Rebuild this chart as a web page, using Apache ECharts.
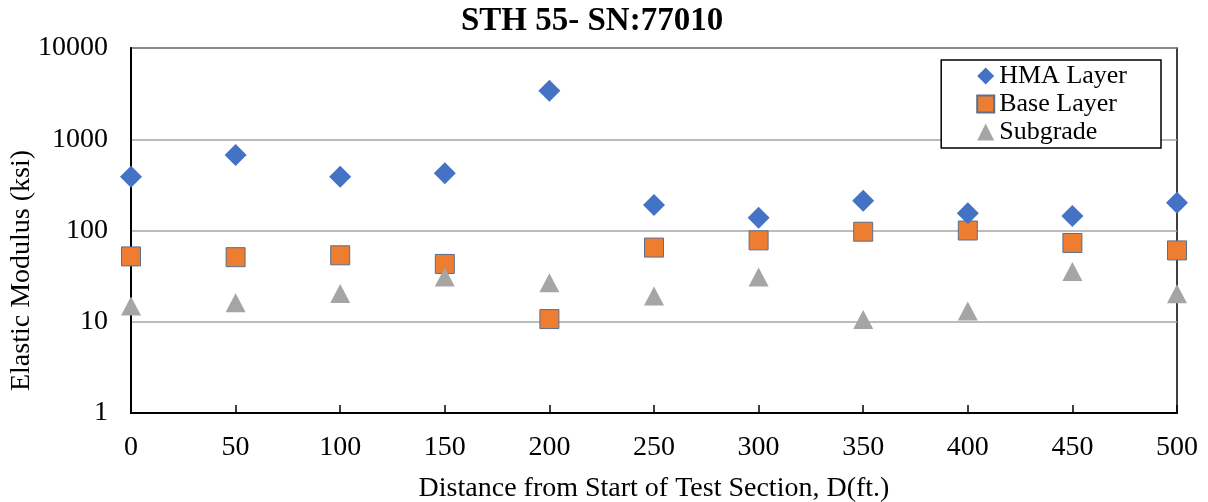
<!DOCTYPE html>
<html>
<head>
<meta charset="utf-8">
<script src="https://cdn.jsdelivr.net/npm/echarts@6/dist/echarts.min.js"></script>
<style>
html,body{margin:0;padding:0;background:#fff;}
#chart{width:1208px;height:502px;}
</style>
</head>
<body>
<div id="chart"></div>
<script>
var titleText = 'STH 55- SN:77010';
var distances = [0, 50, 100, 150, 200, 250, 300, 350, 400, 450, 500];
var hmaLayer = [389, 672, 389, 423, 3396, 190, 138, 212, 155, 144, 201];
var baseLayer = [52, 51, 53.5, 43, 10.7, 65, 78, 97, 100, 73, 60.5];
var subgrade = [14.9, 16.2, 20.4, 31, 26.8, 19.1, 30.9, 10.6, 13.1, 35.6, 20.3];
var seriesNames = ['HMA Layer', 'Base Layer', 'Subgrade'];
var xAxisName = 'Distance from Start of Test Section, D(ft.)';
var yAxisName = 'Elastic Modulus (ksi)';

function pairs(vals) {
  return distances.map(function (d, i) { return [d, vals[i]]; });
}

var FONT = '"Liberation Serif", "Times New Roman", serif';
var chart = echarts.init(document.getElementById('chart'));
chart.setOption({
  backgroundColor: '#fff',
  animation: false,
  textStyle: { fontFamily: FONT, color: '#000' },
  title: {
    text: titleText,
    left: 456,
    top: 0,
    textStyle: { fontFamily: FONT, fontWeight: 'bold', fontSize: 33, color: '#000' }
  },
  grid: {
    left: 131, right: 31, top: 48, bottom: 89,
    containLabel: false,
    outerBoundsMode: 'none',
    show: true, borderColor: '#000', borderWidth: 1.5
  },
  legend: {
    orient: 'vertical',
    right: 47,
    top: 60,
    padding: [3, 34, 3, 35],
    itemGap: 2,
    itemWidth: 17,
    itemHeight: 17,
    backgroundColor: '#fff',
    borderColor: '#000',
    borderWidth: 1.5,
    borderRadius: 0,
    textStyle: { fontFamily: FONT, fontSize: 26, lineHeight: 26, color: '#000' },
    data: seriesNames
  },
  xAxis: {
    type: 'value',
    min: 0, max: 500, interval: 50,
    name: xAxisName,
    nameLocation: 'middle',
    nameGap: 62,
    nameMoveOverlap: false,
    nameTextStyle: { fontFamily: FONT, fontSize: 28, color: '#000' },
    axisLine: { show: true, lineStyle: { color: '#000', width: 2 } },
    axisTick: { show: true, inside: true, length: 8, lineStyle: { color: '#000', width: 1.5 } },
    axisLabel: { fontFamily: FONT, fontSize: 28, color: '#000', margin: 21 },
    splitLine: { show: false }
  },
  yAxis: {
    type: 'log',
    logBase: 10,
    min: 1, max: 10000,
    name: yAxisName,
    nameLocation: 'middle',
    nameGap: 95,
    nameMoveOverlap: false,
    nameTextStyle: { fontFamily: FONT, fontSize: 28, color: '#000', padding: [0, 80, 0, 0] },
    axisLine: { show: true, lineStyle: { color: '#000', width: 2 } },
    axisTick: { show: false },
    axisLabel: {
      fontFamily: FONT, fontSize: 28, color: '#000', margin: 23,
      formatter: function (v) { return String(Math.round(v)); }
    },
    splitLine: { show: true, lineStyle: { color: '#a6a6a6', width: 1.5 } }
  },
  series: [
    {
      name: seriesNames[0], type: 'scatter', symbol: 'diamond', symbolSize: 22,
      itemStyle: { color: '#4472C4', opacity: 1 },
      data: pairs(hmaLayer), z: 3
    },
    {
      name: seriesNames[1], type: 'scatter', symbol: 'rect', symbolSize: 19,
      itemStyle: { color: '#ED7D31', borderColor: '#5b6f8c', borderWidth: 1, opacity: 1 },
      data: pairs(baseLayer), z: 2
    },
    {
      name: seriesNames[2], type: 'scatter', symbol: 'triangle', symbolSize: [20, 19],
      itemStyle: { color: '#A5A5A5', opacity: 1 },
      data: pairs(subgrade), z: 4
    }
  ]
});
</script>
</body>
</html>
